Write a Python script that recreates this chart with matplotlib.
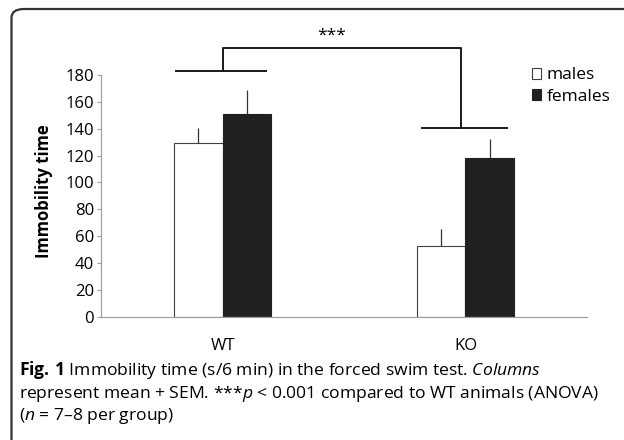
import numpy as np
import matplotlib
matplotlib.use('Agg')
import matplotlib.pyplot as plt
from matplotlib.patches import Patch, FancyBboxPatch

plt.rcParams['font.family'] = ['Open Sans', 'DejaVu Sans']
plt.rcParams['mathtext.fontset'] = 'custom'
plt.rcParams['mathtext.rm'] = 'Open Sans'
plt.rcParams['mathtext.it'] = 'Open Sans:italic'
plt.rcParams['mathtext.bf'] = 'Open Sans:bold'

# ===================== 数据 =====================
groups = ['WT', 'KO']
males = [129, 53]
males_sem = [11.5, 12]
females = [151, 118]
females_sem = [17.5, 14]
series_labels = ['males', 'females']
bracket_low = [183, 140.7]   # 两组上方横线高度
bracket_top = 200
sig_text = '***'

# ===================== 绘图 =====================
fig = plt.figure(figsize=(6.24, 4.4), dpi=100)
ax = fig.add_axes([0.162, 0.2802, 0.7786, 0.5493])

x = np.arange(len(groups))
w = 0.2
gray = '#a0a0a0'
ax.bar(x - w / 2, males, w, color='white', edgecolor='#404040', linewidth=0.8, zorder=2)
ax.bar(x + w / 2, females, w, color='#202020', edgecolor='#202020', linewidth=0.8, zorder=2)
# 仅向上的误差线
ax.vlines(x - w / 2, males, np.array(males) + np.array(males_sem), color='#333333', lw=0.9, zorder=1)
ax.vlines(x + w / 2, females, np.array(females) + np.array(females_sem), color='#333333', lw=0.9, zorder=1)

ax.set_xlim(-0.5, 1.5)
ax.set_ylim(0, 180)
ax.set_yticks(np.arange(0, 181, 20))
ax.set_xticks(x)
ax.set_xticklabels(groups, fontsize=12)
ax.tick_params(axis='x', length=0, pad=15)
ax.tick_params(axis='y', length=3, width=0.8, color=gray, labelsize=12, pad=2)
for s in ['top', 'right']:
    ax.spines[s].set_visible(False)
for s in ['left', 'bottom']:
    ax.spines[s].set_color(gray)
    ax.spines[s].set_linewidth(0.9)
ax.set_ylabel('Immobility time', fontsize=12, fontweight='bold')
ax.yaxis.set_label_coords(-0.098, 0.52)

# 显著性括号
kw = dict(color='#1a1a1a', lw=1.4, clip_on=False, zorder=3)
ax.plot([x[0] - 0.19, x[0] + 0.18], [bracket_low[0]] * 2, **kw)
ax.plot([x[1] - 0.18, x[1] + 0.17], [bracket_low[1]] * 2, **kw)
ax.plot([x[0], x[0], x[1] - 0.02, x[1] - 0.02],
        [bracket_low[0], bracket_top, bracket_top, bracket_low[1]], **kw)
ax.text(0.45, 209, sig_text, ha='center', va='center', fontsize=12.5, clip_on=False)

# 图例
handles = [Patch(facecolor='white', edgecolor='#404040', lw=0.8),
           Patch(facecolor='#202020', edgecolor='#202020', lw=0.8)]
ax.legend(handles, series_labels, loc='upper left', bbox_to_anchor=(0.872, 1.06),
          frameon=False, fontsize=12.5, handlelength=0.55, handleheight=0.55,
          handletextpad=0.3, labelspacing=0.3, borderaxespad=0)

# 图注
cap_x = 19 / 624
cap_fs = 12.6
fig.text(cap_x, 1 - 370 / 440,
         r'$\mathbf{Fig.\,1}$ Immobility time (s/6 min) in the forced swim test. $\mathit{Columns}$',
         fontsize=cap_fs, va='center', ha='left')
fig.text(cap_x, 1 - 394 / 440,
         r'represent mean + SEM. ***$\mathit{p}$ < 0.001 compared to WT animals (ANOVA)',
         fontsize=cap_fs, va='center', ha='left')
fig.text(cap_x, 1 - 416 / 440,
         r'($\mathit{n}$ = 7–8 per group)',
         fontsize=cap_fs, va='center', ha='left')

# 圆角边框
box = FancyBboxPatch((11.5 / 624, -0.2), 1.1, 1.2 - 9 / 440,
                     boxstyle='round,pad=0,rounding_size=0.02',
                     transform=fig.transFigure, facecolor='none',
                     edgecolor='#333333', lw=1.6, clip_on=False)
fig.patches.append(box)

plt.savefig('out.png', dpi=100)
plt.close()
